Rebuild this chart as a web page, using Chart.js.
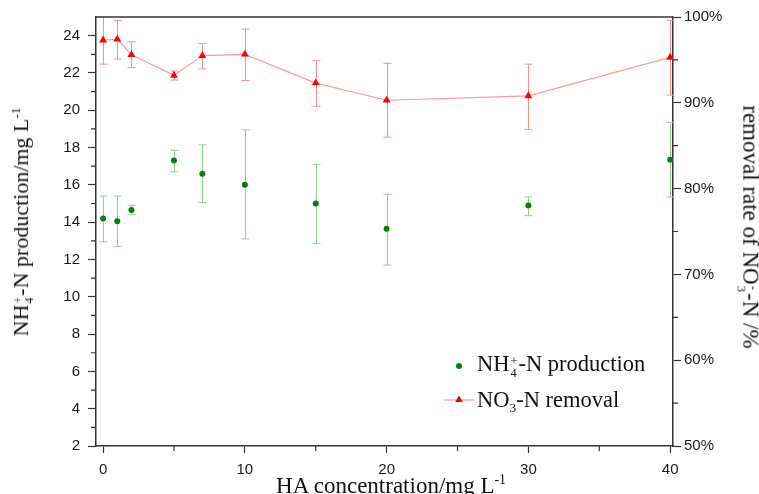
<!DOCTYPE html>
<html>
<head>
<meta charset="utf-8">
<script src="https://cdn.jsdelivr.net/npm/chart.js@4.4.1/dist/chart.umd.min.js"></script>
<style>
  html, body { margin: 0; padding: 0; background: #fff; }
  #wrap { position: relative; width: 759px; height: 494px; overflow: hidden; }
  .txt { position: absolute; font-family: "Liberation Serif", "Times New Roman", serif; color: #111; white-space: nowrap; line-height: 1; }
  .rot { transform: translate(-50%, -50%) rotate(-90deg); }
  .rotR { transform: translate(-50%, -50%) rotate(90deg); }
  .ctr { transform: translate(-50%, -50%); }
  sup, sub { font-size: 0.6em; line-height: 0; }
  .st { display: inline-block; font-size: 0.55em; line-height: 0.95; vertical-align: -0.45em; margin: 0 1px; }
  .st span { display: block; }
  .leg { font-size: 22.5px; transform: translateY(-50%); }
</style>
</head>
<body>
<div id="wrap">
  <canvas id="c"></canvas>
  <div class="txt rot" style="left:23px;top:222px;font-size:22px">NH<span class="st"><span>+</span><span>4</span></span>-N production/mg L<sup>-1</sup></div>
  <div class="txt rotR" style="left:749px;top:227px;font-size:23px">removal rate of NO<span class="st"><span>-</span><span>3</span></span>-N /%</div>
  <div class="txt ctr" style="left:391px;top:485px;font-size:23px">HA concentration/mg L<sup>-1</sup></div>
  <div class="txt leg" style="left:477px;top:366px">NH<span class="st"><span>+</span><span>4</span></span>-N production</div>
  <div class="txt leg" style="left:477px;top:400px">NO<sub>3</sub>-N removal</div>
</div>
<script>
// ---- data ----
const xVals   = [0, 1, 2, 5, 7, 10, 15, 20, 30, 40];
// NH4+-N production, mg/L (left axis)
const nh4     = [14.2, 14.05, 14.65, 17.3, 16.6, 16.0, 15.0, 13.65, 14.9, 17.35];
const nh4Lo   = [12.95, 12.7, 14.4, 16.7, 15.05, 13.1, 12.85, 11.7, 14.35, 15.35];
const nh4Hi   = [15.4, 15.4, 14.9, 17.85, 18.15, 18.95, 17.1, 15.5, 15.35, 19.35];
// NO3-N removal rate, % (right axis)
const no3     = [97.3, 97.4, 95.6, 93.2, 95.5, 95.65, 92.3, 90.3, 90.8, 95.3];
const no3Lo   = [94.5, 95.1, 94.1, 92.65, 93.95, 92.6, 89.6, 86.0, 86.9, 90.9];
const no3Hi   = [100.2, 99.6, 97.1, 93.7, 96.9, 98.6, 94.9, 94.6, 94.5, 99.6];

const xTicks      = [0, 10, 20, 30, 40];
const xMinor      = [5, 15, 25, 35];
const leftTicks   = [2, 4, 6, 8, 10, 12, 14, 16, 18, 20, 22, 24];
const leftMinor   = [3, 5, 7, 9, 11, 13, 15, 17, 19, 21, 23];
const rightTicks  = [50, 60, 70, 80, 90, 100];
const rightMinor  = [55, 65, 75, 85, 95];

const AXIS = '#333333';
const GREEN = '#0a7d0a', RED = '#ff0000', RED_LINE = '#ff9a9a';
const tickFont = { family: '"Liberation Sans", Arial, sans-serif', size: 15 };

// error bars, drawn under the markers
const errorBars = {
  id: 'errorBars',
  beforeDatasetsDraw(chart) {
    const { ctx, chartArea: a } = chart;
    ctx.save();
    ctx.beginPath();
    ctx.rect(a.left, a.top, a.right - a.left, a.bottom - a.top);
    ctx.clip();
    chart.data.datasets.forEach(ds => {
      const xs = chart.scales.x, ys = chart.scales[ds.yAxisID];
      ctx.strokeStyle = ds.errColor;
      ctx.lineWidth = 1;
      ds.data.forEach((p, i) => {
        const px = Math.round(xs.getPixelForValue(p.x)) + 0.5;
        const y1 = ys.getPixelForValue(ds.errLo[i]);
        const y2 = ys.getPixelForValue(ds.errHi[i]);
        ctx.beginPath();
        ctx.moveTo(px, y1); ctx.lineTo(px, y2);
        ctx.moveTo(px - 4, y1); ctx.lineTo(px + 4, y1);
        ctx.moveTo(px - 4, y2); ctx.lineTo(px + 4, y2);
        ctx.stroke();
      });
    });
    ctx.restore();
  }
};

// top frame line, minor ticks, legend symbols
const frame = {
  id: 'frame',
  afterDraw(chart) {
    const { ctx, chartArea: a, scales } = chart;
    ctx.save();
    ctx.strokeStyle = AXIS;
    ctx.lineWidth = 1.5;
    ctx.beginPath();
    ctx.moveTo(a.left, a.top); ctx.lineTo(a.right, a.top);
    ctx.stroke();
    ctx.lineWidth = 1.2;
    ctx.beginPath();
    xMinor.forEach(v => { const p = scales.x.getPixelForValue(v); ctx.moveTo(p, a.bottom); ctx.lineTo(p, a.bottom + 5); });
    leftMinor.forEach(v => { const p = scales.yL.getPixelForValue(v); ctx.moveTo(a.left, p); ctx.lineTo(a.left - 5, p); });
    rightMinor.forEach(v => { const p = scales.yR.getPixelForValue(v); ctx.moveTo(a.right, p); ctx.lineTo(a.right + 5, p); });
    ctx.stroke();

    // legend symbols (text is HTML beside them)
    const lx = 459, ly1 = 366, ly2 = 400;
    ctx.fillStyle = GREEN;
    ctx.beginPath(); ctx.arc(lx, ly1, 3, 0, Math.PI * 2); ctx.fill();
    ctx.strokeStyle = RED_LINE; ctx.lineWidth = 1.2;
    ctx.beginPath(); ctx.moveTo(lx - 15, ly2); ctx.lineTo(lx + 15, ly2); ctx.stroke();
    Chart.helpers.drawPoint(ctx, { pointStyle: 'triangle', radius: 4.2, borderWidth: 0 }, lx, ly2);
    ctx.fillStyle = RED;
    ctx.fill();
    ctx.restore();
  }
};

const axisGrid = { drawOnChartArea: false, drawTicks: true, tickLength: 8, tickColor: AXIS, tickWidth: 1.2 };
const axisBorder = { display: true, color: AXIS, width: 1.5 };

new Chart(document.getElementById('c'), {
  type: 'scatter',
  data: {
    datasets: [
      {
        label: 'NH4+-N production',
        data: xVals.map((x, i) => ({ x, y: nh4[i] })),
        yAxisID: 'yL',
        pointRadius: 3,
        pointBackgroundColor: GREEN,
        pointBorderWidth: 0,
        showLine: false,
        errLo: nh4Lo, errHi: nh4Hi, errColor: '#8fd08f'
      },
      {
        label: 'NO3-N removal',
        data: xVals.map((x, i) => ({ x, y: no3[i] })),
        yAxisID: 'yR',
        showLine: true,
        borderColor: RED_LINE,
        borderWidth: 1.2,
        pointStyle: 'triangle',
        pointRadius: 4.6,
        pointBackgroundColor: RED,
        pointBorderWidth: 0,
        errLo: no3Lo, errHi: no3Hi, errColor: '#ff8e8e'
      }
    ]
  },
  options: {
    responsive: true,
    maintainAspectRatio: false,
    animation: false,
    layout: { padding: { left: 0, right: 0, top: 17, bottom: 0 } },
    plugins: { legend: { display: false }, tooltip: { enabled: false } },
    scales: {
      x: {
        type: 'linear', min: -0.5, max: 40.2,
        afterBuildTicks: s => { s.ticks = xTicks.map(v => ({ value: v })); },
        afterFit: s => { s.height = 48; },
        grid: { ...axisGrid, tickLength: 7 },
        border: axisBorder,
        ticks: { font: tickFont, color: '#1a1a1a', padding: 8, maxRotation: 0, autoSkip: false }
      },
      yL: {
        type: 'linear', position: 'left', min: 2, max: 25,
        afterBuildTicks: s => { s.ticks = leftTicks.map(v => ({ value: v })); },
        afterFit: s => { s.width = 96; },
        grid: axisGrid,
        border: axisBorder,
        ticks: { font: tickFont, color: '#1a1a1a', padding: 8, autoSkip: false }
      },
      yR: {
        type: 'linear', position: 'right', min: 50, max: 100,
        afterBuildTicks: s => { s.ticks = rightTicks.map(v => ({ value: v })); },
        afterFit: s => { s.width = 86; },
        grid: axisGrid,
        border: axisBorder,
        ticks: { font: tickFont, color: '#1a1a1a', padding: 3, autoSkip: false, callback: v => v + '%' }
      }
    }
  },
  plugins: [errorBars, frame]
});
</script>
</body>
</html>
